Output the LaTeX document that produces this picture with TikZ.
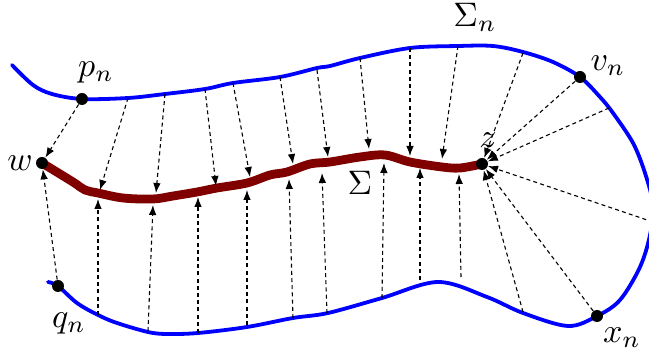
\documentclass[tikz,border=0pt]{standalone}
\usetikzlibrary{arrows.meta}
\definecolor{maroonc}{RGB}{128,0,0}
\begin{document}
\begin{tikzpicture}[x=0.5pt,y=-0.5pt,
  bluecurve/.style={draw=blue,line width=1.9pt,line cap=round},
  redcurve/.style={draw=maroonc,line width=4.4pt,line cap=round},
  dot/.style={circle,fill=black,inner sep=0pt,minimum size=6pt},
  arr/.style={draw=black,line width=0.55pt,dash pattern=on 2pt off 1.6pt,-{Latex[length=5pt,width=3.8pt]}},
  lbl/.style={scale=1.7,inner sep=0pt}]
\useasboundingbox (0,0) rectangle (649,352);
\clip (0,0) rectangle (649,352);
% blue curve Sigma_n
\draw[bluecurve] plot[smooth,tension=0.55] coordinates {
 (12,65) (33,85) (52,94) (82,99) (128,98) (165,94) (205,89) (233,83) (280,77)
 (317,68) (330,66) (360,58) (410,48) (458,46) (493,46) (523,52) (553,62) (580,77)
 (600,97) (613,113) (633,143) (645,173) (653,205) (650,235) (640,267) (620,300)
 (597,316) (568,326) (523,313) (487,297) (438,282) (382,298) (328,313) (293,318)
 (247,327) (198,333) (167,334) (148,332) (117,323) (98,315) (77,303) (58,286) (48,282)};
% maroon curve Sigma
\draw[redcurve] plot[smooth,tension=0.55] coordinates {
 (42,163) (73,182) (85,190) (98,193) (123,198) (153,199) (173,196) (197,192)
 (217,188) (247,183) (270,175) (287,172) (310,164) (330,162) (360,157) (385,155)
 (410,162) (442,167) (460,168) (482,164)};
% dots
\node[dot] (pn) at (82,99) {};
\node[dot] (vn) at (580,77) {};
\node[dot] (w) at (42,163) {};
\node[dot] (z) at (482,164) {};
\node[dot] (qn) at (58,286) {};
\node[dot] (xn) at (597,316) {};
% arrow end points
\coordinate (t2s) at (128,98);  \coordinate (t2e) at (100,190);
\coordinate (t3s) at (165,94);  \coordinate (t3e) at (156,193);
\coordinate (t4s) at (205,89);  \coordinate (t4e) at (216,186);
\coordinate (t5s) at (233,83);  \coordinate (t5e) at (250,177);
\coordinate (t6s) at (280,77);  \coordinate (t6e) at (293,164);
\coordinate (t7s) at (317,70);  \coordinate (t7e) at (328,157);
\coordinate (t8s) at (360,58);  \coordinate (t8e) at (369,149);
\coordinate (t9s) at (410,48);  \coordinate (t9e) at (410,156);
\coordinate (t10s) at (458,46); \coordinate (t10e) at (442,159);
\coordinate (t11s) at (523,53);
\coordinate (t13s) at (609,108);
\coordinate (rs) at (653,222);
\coordinate (b11s) at (523,312);
\coordinate (b10s) at (461,277); \coordinate (b10e) at (459,174);
\coordinate (b9s) at (420,280);  \coordinate (b9e) at (420,168);
\coordinate (b8s) at (382,298);  \coordinate (b8e) at (384,163);
\coordinate (b7s) at (327,313);  \coordinate (b7e) at (322,173);
\coordinate (b6s) at (293,318);  \coordinate (b6e) at (289,179);
\coordinate (b5s) at (247,325);  \coordinate (b5e) at (247,190);
\coordinate (b4s) at (198,333);  \coordinate (b4e) at (198,197);
\coordinate (b3s) at (148,331);  \coordinate (b3e) at (153,205);
\coordinate (b2s) at (98,315);   \coordinate (b2e) at (98,199);
% arrows
\draw[arr] (pn) -- (w);
\draw[arr] (qn) -- (w);
\foreach \i in {2,...,10} {\draw[arr] (t\i s) -- (t\i e);}
\foreach \i in {2,...,10} {\draw[arr] (b\i s) -- (b\i e);}
\draw[arr] (t11s) -- (z);
\draw[arr] (vn) -- (z);
\draw[arr] (t13s) -- (z);
\draw[arr] (rs) -- (z);
\draw[arr] (xn) -- (z);
\draw[arr] (b11s) -- (z);
% labels
\node[lbl] (lpn) at (96,72) {$p_n$};
\node[lbl] (lSn) at (475,17) {$\Sigma_n$};
\node[lbl] (lvn) at (608,66) {$v_n$};
\node[lbl] (lz) at (488,140) {$z$};
\node[lbl] (lw) at (20,163) {$w$};
\node[lbl] (lS) at (360,183) {$\Sigma$};
\node[lbl] (lqn) at (69,323) {$q_n$};
\node[lbl] (lxn) at (622,338) {$x_n$};
\end{tikzpicture}
\end{document}
